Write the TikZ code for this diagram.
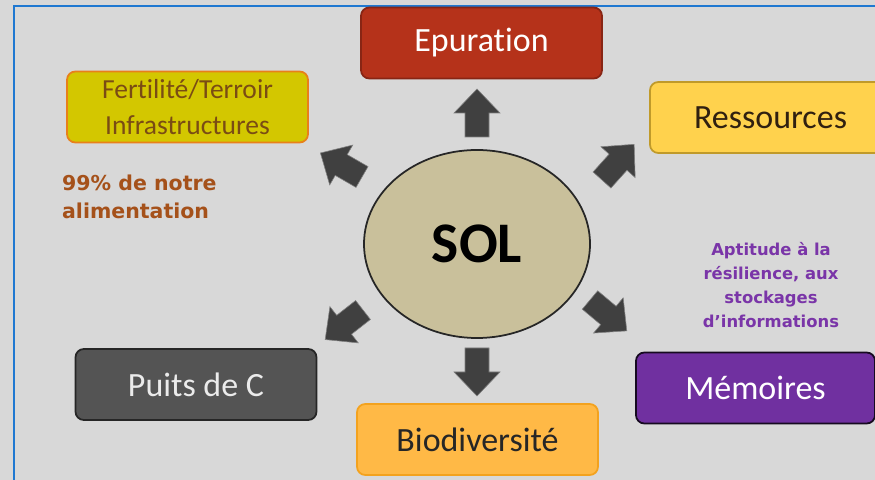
\documentclass[tikz,border=0pt]{standalone}
\usepackage{fontspec}
\setmainfont{Carlito}[RawFeature=-liga]
\newfontfamily\notefont{DejaVu Sans}
\usetikzlibrary{shapes.geometric}

\definecolor{bggray}{HTML}{D8D8D8}
\definecolor{frameblue}{HTML}{1F78D1}
\definecolor{epurred}{HTML}{B5321A}
\definecolor{fertyellow}{HTML}{D3C700}
\definecolor{fertorange}{HTML}{E8801A}
\definecolor{fertbrown}{HTML}{7A4C14}
\definecolor{ressyellow}{HTML}{FFD24D}
\definecolor{ressedge}{HTML}{C09A2A}
\definecolor{puitsgray}{HTML}{545454}
\definecolor{bioorange}{HTML}{FFB946}
\definecolor{bioedge}{HTML}{F3A21E}
\definecolor{mempurple}{HTML}{7030A0}
\definecolor{solbeige}{HTML}{C9C09B}
\definecolor{arrowgray}{HTML}{404040}
\definecolor{notebrown}{HTML}{A5511A}
\definecolor{notepurple}{HTML}{7A35A8}

\begin{document}
\begin{tikzpicture}[x=0.03cm, y=0.03cm,
		box/.style={rectangle, rounded corners=0.25cm, line width=1.5pt, minimum width=7.23cm, minimum height=2.13cm, align=center, font=\fontsize{29}{35}\selectfont},
		blockarrow/.style={fill=arrowgray, draw=gray, line width=0.5pt},
		note/.style={font=\notefont\bfseries\fontsize{14}{20.5}\selectfont, align=center}
	]
		\fill[bggray] (0,0) rectangle (875,480);
		\useasboundingbox (0,0) rectangle (875,480);
		\clip (0,0) rectangle (875,480);
		\draw[frameblue, line width=1.7pt] (14,0) -- (14,474) -- (875,474);
	
		\node[box, fill=epurred, draw=epurred!75!black, text=white] (epur) at (481.5,437) {Epuration};
		\node[box, fill=fertyellow, draw=fertorange, text=fertbrown, font=\fontsize{23.5}{30}\selectfont] (fert) at (187.5,373) {Fertilité/Terroir\\Infrastructures};
		\node[box, fill=ressyellow, draw=ressedge, text=black!75!brown] (ress) at (770.5,362.5) {Ressources};
		\node[box, fill=puitsgray, draw=black!85, text=white!92!black] (puits) at (196,95.5) {Puits de C};
		\node[box, fill=bioorange, draw=bioedge, text=black!85] (bio) at (477.5,40.5) {Biodiversité};
		\node[box, fill=mempurple, draw=black!80!mempurple, text=white, minimum width=7.17cm] (mem) at (755.5,92) {Mémoires};
	
		\node[ellipse, fill=solbeige, draw=black!85, line width=1.5pt, minimum width=6.78cm, minimum height=5.64cm, font=\bfseries\fontsize{49}{55}\selectfont] (sol) at (477,236) {SOL};
	
		\foreach \x/\y/\a in {477/343/90, 602/300/48, 362/303/150, 363/170/218, 477/132/270, 590/180/-40} {
			\draw[blockarrow, shift={(\x,\y)}, rotate=\a] (0,-12) -- (24,-12) -- (24,-23) -- (48,0) -- (24,23) -- (24,12) -- (0,12) -- cycle;
		}
	
		\node[note, text=notebrown, align=left, anchor=west, font=\notefont\bfseries\fontsize{17.5}{24}\selectfont] (food) at (58,283) {99\% de notre\\alimentation};
		\node[note, text=notepurple] (apt) at (771,195) {Aptitude à la\\résilience, aux\\stockages\\d’informations};
	\end{tikzpicture}
\end{document}
